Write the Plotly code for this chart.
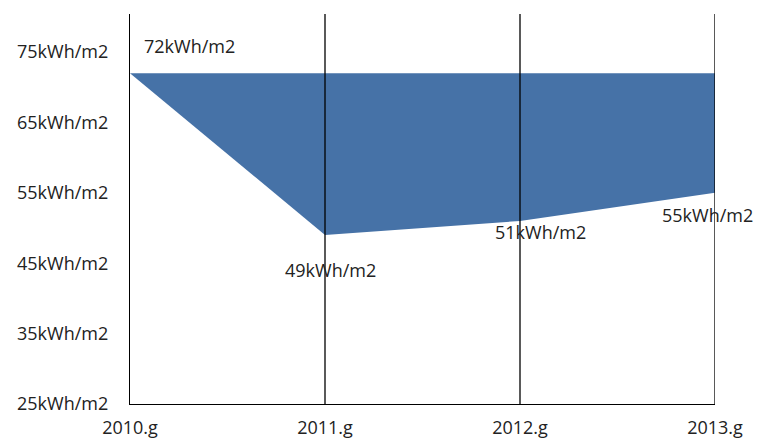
import plotly.graph_objects as go

categories = ["2010.g", "2011.g", "2012.g", "2013.g"]
values = [72, 49, 51, 55]
value_labels = ["72kWh/m2", "49kWh/m2", "51kWh/m2", "55kWh/m2"]
y_tick_vals = [25, 35, 45, 55, 65, 75]
y_tick_text = ["25kWh/m2", "35kWh/m2", "45kWh/m2", "55kWh/m2", "65kWh/m2", "75kWh/m2"]

ceiling = [values[0]] * len(categories)
FONT = "Open Sans"
FILL = "#4672A7"
FS = 18

fig = go.Figure()
fig.add_trace(go.Scatter(x=categories, y=ceiling, mode="lines",
                         line=dict(width=0, color=FILL), hoverinfo="skip",
                         showlegend=False))
fig.add_trace(go.Scatter(x=categories, y=values, mode="lines",
                         line=dict(width=0, color=FILL), fill="tonexty",
                         fillcolor=FILL, showlegend=False))

# label offsets (pixels) relative to each point
offsets = [(12, 27, "left"), (5, -35, "center"), (20, -11, "center"), (-8, -22, "center")]
for c, v, t, (dx, dy, xa) in zip(categories, values, value_labels, offsets):
    fig.add_annotation(x=c, y=v, text=t, showarrow=False, xanchor=xa,
                       yanchor="middle", xshift=dx, yshift=dy,
                       font=dict(family=FONT, size=FS, color="#222"))

# vertical grid lines drawn above the area
for c in categories[1:]:
    fig.add_shape(type="line", x0=c, x1=c, xref="x", y0=0, y1=1, yref="paper",
                  line=dict(color="black", width=1.3), layer="above")

# page body has an 8px margin, so the figure is sized/offset to compensate
fig.update_layout(
    width=755, height=433,
    margin=dict(l=122, r=48, t=6, b=37),
    paper_bgcolor="white", plot_bgcolor="white",
    font=dict(family=FONT, size=FS, color="#222"),
    xaxis=dict(type="category", range=[0, 3], showgrid=False, automargin=False,
               showline=True, linecolor="black", linewidth=1.3,
               ticks="", ticklabelstandoff=7, zeroline=False),
    yaxis=dict(range=[25, 80.4], tickvals=y_tick_vals, ticktext=y_tick_text,
               showgrid=False, showline=True, linecolor="black", linewidth=1.3,
               automargin=False, ticks="", ticklabelstandoff=17, zeroline=False),
)

fig.write_html("out.html")
